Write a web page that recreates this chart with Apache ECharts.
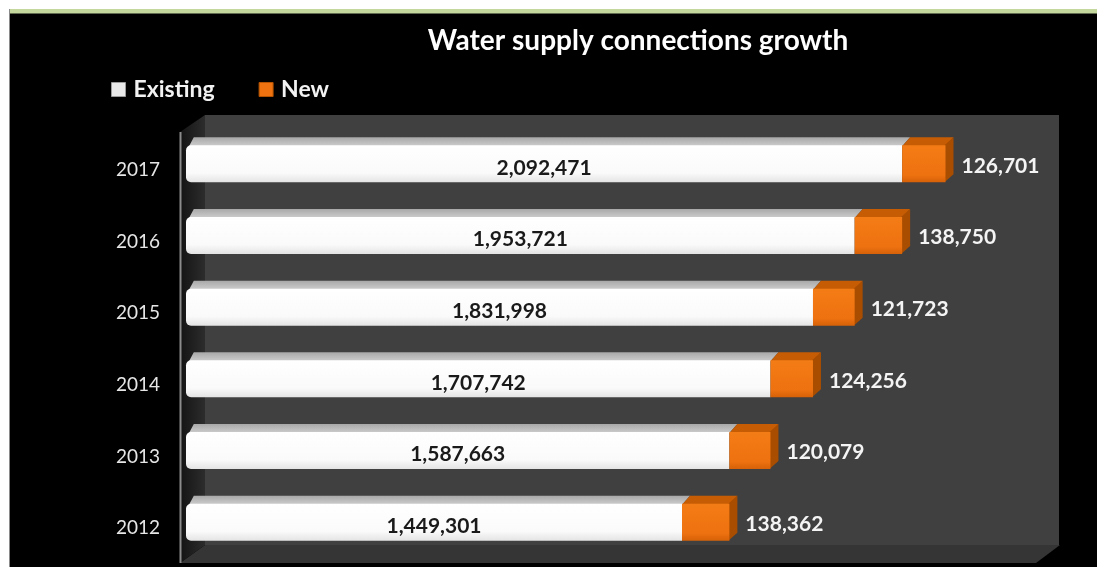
<!DOCTYPE html>
<html><head><meta charset="utf-8">
<script src="https://cdn.jsdelivr.net/npm/echarts@6/dist/echarts.min.js"></script>
<style>html,body{margin:0;padding:0;background:#fff;overflow:hidden}#c{width:1097px;height:567px}</style>
</head><body><div id="c"></div>
<script>
const categories = ['2012', '2013', '2014', '2015', '2016', '2017'];
const existing = [1449301, 1587663, 1707742, 1831998, 1953721, 2092471];
const added = [138362, 120079, 124256, 121723, 138750, 126701];
const seriesNames = ['Existing', 'New'];
const titleText = 'Water supply connections growth';

const FONT = 'Lato, "Open Sans", sans-serif';
const fmt = v => Number(v).toLocaleString('en-US');
const BAR_H = 37, DEPTH = 8;

const chart = echarts.init(document.getElementById('c'), null, {renderer: 'canvas'});

const whiteGrad = new echarts.graphic.LinearGradient(0, 0, 0, 1, [
  {offset: 0, color: '#ffffff'},
  {offset: 0.75, color: '#fafafa'},
  {offset: 1, color: '#e4e4e4'}
]);
const orangeGrad = new echarts.graphic.LinearGradient(0, 0, 0, 1, [
  {offset: 0, color: '#f47c16'},
  {offset: 0.8, color: '#ee7210'},
  {offset: 1, color: '#d66108'}
]);
const topGray = new echarts.graphic.LinearGradient(0, 0, 0, 1, [
  {offset: 0, color: '#a8a8a8'}, {offset: 1, color: '#cdcdcd'}
]);

// depth faces built from the same arrays, positioned via the axes
const depthData = categories.map((c, i) => [existing[i], i, added[i]]);

chart.setOption({
  backgroundColor: '#000',
  animation: false,
  graphic: [
    {type: 'rect', z: 0, shape: {x: 0, y: 0, width: 9, height: 567}, style: {fill: '#ffffff'}},
    {type: 'rect', z: 0, shape: {x: 0, y: 0, width: 1097, height: 9}, style: {fill: '#ffffff'}},
    {type: 'rect', z: 0, shape: {x: 9, y: 9, width: 1088, height: 4.5}, style: {fill: '#c4d79c'}},
    {type: 'rect', z: 0, shape: {x: 9, y: 9, width: 1, height: 558}, style: {fill: '#8a8a8a'}},
    {type: 'rect', z: 0, shape: {x: 205, y: 115, width: 854, height: 430}, style: {fill: '#404040'}},
    {type: 'polygon', z: 0, shape: {points: [[180, 563], [1036, 563], [1060, 545], [205, 545]]},
      style: {fill: '#353535'}},
    {type: 'polygon', z: 0, shape: {points: [[180, 132], [205, 115], [205, 545], [180, 563]]},
      style: {fill: new echarts.graphic.LinearGradient(0, 0, 1, 0, [
        {offset: 0, color: '#141414'}, {offset: 1, color: '#2c2c2c'}])}},
    {type: 'rect', z: 0, shape: {x: 179.5, y: 132, width: 2, height: 431}, style: {fill: '#8c8c8c'}}
  ],
  title: {
    text: titleText,
    left: 633, textAlign: 'center',
    top: 22,
    textStyle: {color: '#ffffff', fontSize: 28, fontWeight: 'bold', fontFamily: FONT}
  },
  legend: {
    left: 106, top: 73,
    itemWidth: 14, itemHeight: 14, itemGap: 44,
    icon: 'rect',
    textStyle: {color: '#f2f2f2', fontSize: 23, fontWeight: 'bold', fontFamily: FONT, padding: [0, 0, 0, 3]},
    data: [
      {name: seriesNames[0], itemStyle: {color: '#e8e8e8', borderColor: '#9a9a9a', borderWidth: 1}},
      {name: seriesNames[1], itemStyle: {color: '#ee7210', borderColor: '#b35200', borderWidth: 1}}
    ]
  },
  grid: {left: 186, right: 55.4, top: 128, bottom: 9, containLabel: false},
  xAxis: {
    type: 'value', min: 0, max: 2500000, show: false,
    splitLine: {show: false}
  },
  yAxis: {
    type: 'category', data: categories,
    axisLine: {show: false}, axisTick: {show: false},
    axisLabel: {
      margin: 26,
      formatter: v => '{a|' + v + '}',
      rich: {a: {color: '#e6e6e6', fontSize: 19, fontFamily: FONT, padding: [12, 0, 0, 0]}}
    }
  },
  series: [
    {
      name: '3d', type: 'custom', z: 1, silent: true,
      data: depthData,
      encode: {x: 0, y: 1},
      renderItem: (params, api) => {
        const e = api.value(0), i = api.value(1), n = api.value(2);
        const p0 = api.coord([0, i]);
        const p1 = api.coord([e, i]);
        const p2 = api.coord([e + n, i]);
        const d = DEPTH;
        const yT = p0[1] - BAR_H / 2, yB = p0[1] + BAR_H / 2;
        return {type: 'group', children: [
          {type: 'polygon', shape: {points: [[p0[0] + 3, yT + 1], [p0[0] + 3 + d * 0.6, yT - d], [p1[0] + d, yT - d], [p1[0], yT + 1]]},
            style: {fill: topGray}},
          {type: 'polygon', shape: {points: [[p1[0], yT + 1], [p1[0] + d, yT - d], [p2[0] + d, yT - d], [p2[0], yT + 1]]},
            style: {fill: '#c65d04'}},
          {type: 'polygon', shape: {points: [[p2[0] - 1, yT], [p2[0] + d, yT - d], [p2[0] + d, yB - d], [p2[0] - 1, yB]]},
            style: {fill: '#a94d00'}}
        ]};
      }
    },
    {
      name: seriesNames[0], type: 'bar', stack: 'total', data: existing, z: 2,
      barWidth: BAR_H,
      itemStyle: {color: whiteGrad, borderRadius: [5, 0, 0, 5]},
      label: {
        show: true, position: 'inside', offset: [0, 4],
        formatter: p => fmt(p.value),
        color: '#1a1a1a', fontSize: 21, fontWeight: 'bold', fontFamily: FONT
      }
    },
    {
      name: seriesNames[1], type: 'bar', stack: 'total', data: added, z: 2,
      barWidth: BAR_H,
      itemStyle: {color: orangeGrad},
      label: {
        show: true, position: 'right', distance: 16, offset: [0, 2],
        formatter: p => fmt(p.value),
        color: '#f4f4f4', fontSize: 21, fontWeight: 'bold', fontFamily: FONT
      }
    }
  ]
});
</script></body></html>
